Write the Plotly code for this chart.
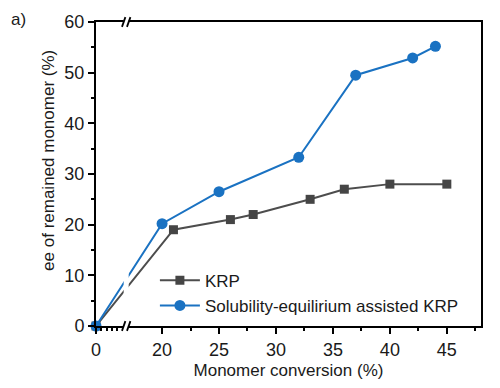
import plotly.graph_objects as go

# ---- data ----
krp_x = [0, 21, 26, 28, 33, 36, 40, 45]
krp_y = [0, 19, 21, 22, 25, 27, 28, 28]
sea_x = [0, 20, 25, 32, 37, 42, 44]
sea_y = [0, 20.2, 26.5, 33.3, 49.5, 52.9, 55.2]
x_tick_values = [0, 20, 25, 30, 35, 40, 45]
x_tick_labels = ["0", "20", "25", "30", "35", "40", "45"]
y_tick_values = [0, 10, 20, 30, 40, 50, 60]

# ---- broken x axis: left segment compressed, right segment true scale ----
ORIGIN = 14.2        # display position of x = 0
LEFT_SCALE = 0.461   # display units per data unit on the left segment
BREAK = 16.85        # display position of the break

def disp(x):
    return x if x >= 20 else ORIGIN + x * LEFT_SCALE

FONT = "Arial, Liberation Sans, sans-serif"
GRAY = "#454545"
BLUE = "#1a72c2"
TXT = "#1a1a1a"

fig = go.Figure()
fig.add_trace(go.Scatter(
    x=[disp(v) for v in krp_x], y=krp_y, name="KRP", mode="lines+markers",
    line=dict(color="#4d4d4d", width=2), marker=dict(symbol="square", size=9, color=GRAY),
    cliponaxis=False))
fig.add_trace(go.Scatter(
    x=[disp(v) for v in sea_x], y=sea_y, name="Solubility-equilirium assisted KRP",
    mode="lines+markers", line=dict(color=BLUE, width=2),
    marker=dict(symbol="circle", size=11, color=BLUE), cliponaxis=False))

minor_x = [ORIGIN + i * LEFT_SCALE for i in range(1, 5)] + [22.5 + 5 * i for i in range(6)]

fig.update_layout(
    width=492, height=380,
    margin=dict(l=88, r=19, t=14, b=62, autoexpand=False),
    paper_bgcolor="white", plot_bgcolor="white",
    font=dict(family=FONT, size=17, color=TXT),
    showlegend=True,
    legend=dict(x=0.153, y=0.208, xanchor="left", yanchor="top",
                bgcolor="rgba(0,0,0,0)", font=dict(size=17, color=TXT),
                tracegroupgap=0, itemwidth=40),
    xaxis=dict(range=[ORIGIN, 48.0], tickmode="array", automargin=False,
               tickvals=[disp(v) for v in x_tick_values], ticktext=x_tick_labels,
               ticks="outside", ticklen=6, tickwidth=1.5, tickcolor="black",
               tickfont=dict(size=18),
               showline=True, linecolor="black", linewidth=2, mirror=True,
               showgrid=False, zeroline=False,
               minor=dict(tickvals=minor_x, ticks="outside", ticklen=3,
                          tickwidth=1.5, tickcolor="black", showgrid=False),
               title=dict(text="Monomer conversion (%)", font=dict(size=17), standoff=6)),
    yaxis=dict(range=[0, 60], tickmode="array", tickvals=y_tick_values, automargin=False,
               ticks="outside", ticklen=6, tickwidth=1.5, tickcolor="black",
               tickfont=dict(size=18),
               showline=True, linecolor="black", linewidth=2, mirror=True,
               showgrid=False, zeroline=False,
               minor=dict(dtick=5, tick0=0, ticks="outside", ticklen=3,
                          tickwidth=1.5, tickcolor="black", showgrid=False)),
)

# white gap for the axis break (cuts lines and frame)
fig.add_shape(type="rect", xref="x", yref="paper", x0=BREAK - 0.22, x1=BREAK + 0.22,
              y0=-0.012, y1=1.012, fillcolor="white", line=dict(width=0), layer="above")
# break marks // at bottom and top
for yb in (0.0, 1.0):
    for dx in (-0.22, 0.22):
        fig.add_shape(type="line", xref="x", yref="paper",
                      x0=BREAK + dx - 0.15, x1=BREAK + dx + 0.15,
                      y0=yb - 0.016, y1=yb + 0.016,
                      line=dict(color="black", width=1.8), layer="above")

# y-axis title and panel label
fig.add_annotation(text="ee of remained monomer (%)", xref="paper", yref="paper",
                   x=-0.125, y=0.546, xanchor="center", yanchor="middle",
                   textangle=-90, showarrow=False, font=dict(size=17, color=TXT))
fig.add_annotation(text="a)", xref="paper", yref="paper", x=-0.226, y=1.007,
                   xanchor="left", yanchor="middle", showarrow=False,
                   font=dict(size=17, color=TXT))

fig.write_html("out.html")
